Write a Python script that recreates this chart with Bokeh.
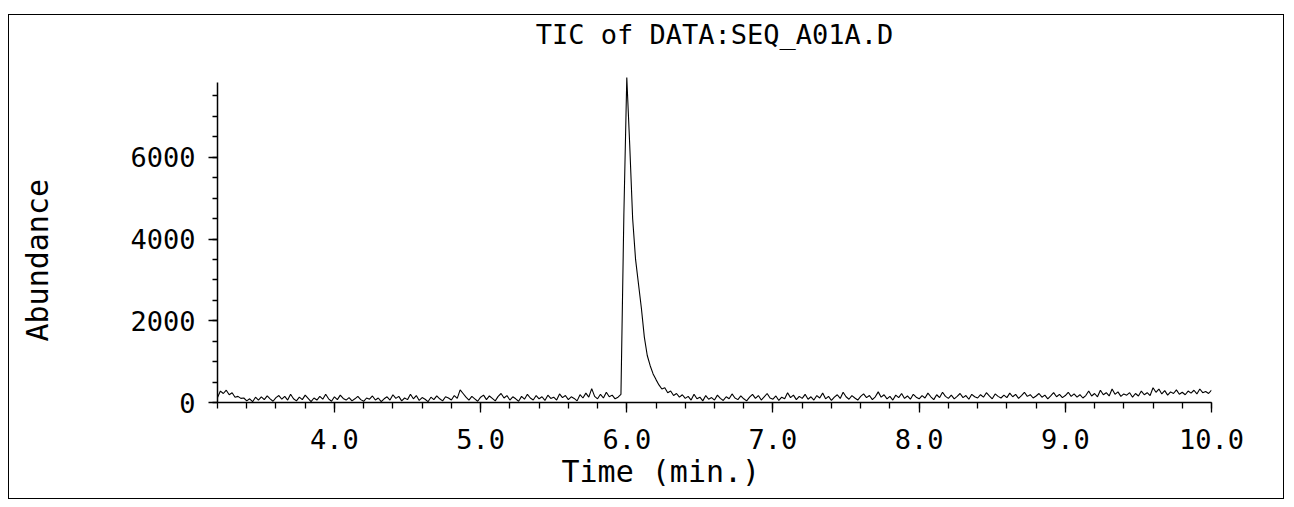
import numpy as np
from bokeh.plotting import figure
from bokeh.models import (Range1d, FixedTicker, PrintfTickFormatter, BasicTickFormatter,
                          Title, LinearAxis)
from bokeh.embed import file_html
from bokeh.resources import INLINE

# ---- data ----
scan_start = 3.20      # min
scan_step = 0.02       # min between scans

# baseline before the peak: 3.20 .. 5.94 min
baseline_before = [
    120, 280, 220, 300, 190, 240, 130, 150, 100, 110,
    40, 90, 20, 130, 60, 140, 70, 160, 90, 30,
    120, 170, 80, 150, 60, 200, 90, 40, 130, 70,
    180, 100, 20, 110, 60, 150, 80, 200, 90, 30,
    140, 70, 180, 100, 60, 120, 40, 90, 150, 70,
    30, 110, 80, 160, 60, 110, 20, 90, 140, 60,
    190, 100, 150, 40, 110, 70, 200, 90, 170, 50,
    120, 80, 20, 130, 70, 160, 90, 40, 140, 110,
    60, 170, 100, 310, 220, 130, 60, 150, 90, 30,
    130, 180, 70, 160, 100, 40, 150, 220, 110, 170,
    60, 140, 90, 30, 150, 80, 200, 110, 60, 170,
    90, 140, 50, 180, 100, 130, 60, 210, 120, 170,
    70, 140, 100, 40, 190, 110, 230, 130, 340, 150,
    90, 200, 110, 250, 140, 180, 90, 130,
]
# peak: 5.96 .. 6.40 min
peak = [
    200, 4600, 7950, 6300, 4500, 3500, 2900, 2300, 1600, 1150,
    900, 700, 560, 430, 330, 360, 240, 280, 170, 220,
    130, 190, 100,
]
# baseline after the peak: 6.42 .. 10.00 min
baseline_after = [
    150, 60, 200, 90, 130, 40, 170, 80, 120, 60,
    180, 100, 50, 140, 90, 210, 110, 70, 160, 90,
    40, 130, 200, 100, 170, 60, 140, 220, 110, 80,
    160, 50, 130, 90, 240, 120, 180, 70, 150, 100,
    200, 80, 140, 60, 170, 110, 230, 90, 150, 50,
    130, 190, 100, 250, 140, 80, 170, 110, 60, 150,
    210, 120, 170, 70, 140, 260, 130, 190, 90, 150,
    60, 180, 120, 220, 100, 160, 80, 200, 130, 90,
    170, 110, 230, 140, 70, 190, 120, 250, 150, 100,
    180, 90, 150, 220, 120, 170, 80, 200, 140, 110,
    190, 130, 240, 160, 90, 210, 150, 110, 180, 120,
    230, 140, 200, 100, 170, 250, 150, 190, 110, 160,
    220, 130, 180, 90, 160, 240, 140, 200, 120, 170,
    250, 150, 210, 130, 190, 110, 170, 280, 160, 220,
    140, 300, 190, 240, 160, 330, 200, 260, 150, 210,
    180, 240, 130, 220, 160, 280, 190, 240, 170, 360,
    250, 330, 210, 290, 180, 260, 220, 310, 200, 250,
    190, 280, 230, 300, 210, 330, 240, 270, 220, 300,
]

x_major_ticks = [4.0, 5.0, 6.0, 7.0, 8.0, 9.0, 10.0]
x_minor_ticks = [round(3.2 + 0.2 * i, 1) for i in range(35)]
y_major_ticks = [0, 2000, 4000, 6000]
y_minor_ticks = [500 * i for i in range(16)]

title_text = "TIC of DATA:SEQ_A01A.D"
x_label = "Time (min.)"
y_label = "Abundance"

abundance = np.array(baseline_before + peak + baseline_after, dtype=float)
time = scan_start + scan_step * np.arange(len(abundance))

FONT = "DejaVu Sans Mono"

p = figure(
    width=1276, height=485,
    x_range=Range1d(3.2, 10.0), y_range=Range1d(0, 8000),
    output_backend="svg", toolbar_location=None,
    min_border_left=208, min_border_right=74, min_border_top=60, min_border_bottom=98,
)
p.styles = {"border": "1.5px solid black", "margin-top": "14px", "margin-left": "8px"}
p.background_fill_color = "white"
p.border_fill_color = "white"
p.outline_line_color = None
p.xgrid.visible = False
p.ygrid.visible = False

p.line(time, abundance, line_color="black", line_width=1.1)

xa = p.xaxis[0]
xa.ticker = FixedTicker(ticks=x_major_ticks, minor_ticks=x_minor_ticks)
xa.formatter = PrintfTickFormatter(format="%.1f")
ya = p.yaxis[0]
ya.ticker = FixedTicker(ticks=y_major_ticks, minor_ticks=y_minor_ticks)
ya.formatter = BasicTickFormatter()
ya.bounds = (0, 7830)

for ax, tout, mout, stand in ((xa, 10, 6, 16), (ya, 9, 5, 13)):
    ax.axis_line_color = "black"
    ax.axis_line_width = 1.5
    ax.major_tick_line_color = "black"
    ax.minor_tick_line_color = "black"
    ax.major_tick_line_width = 1.3
    ax.minor_tick_line_width = 1.3
    ax.major_tick_out = tout
    ax.major_tick_in = 0
    ax.minor_tick_out = mout
    ax.minor_tick_in = 0
    ax.major_label_standoff = stand
    ax.major_label_text_font = FONT
    ax.major_label_text_font_size = "27px"
    ax.major_label_text_color = "black"


def spacer(size, at):
    # a blank axis (one white tick, no label) that only reserves space in a side panel
    return LinearAxis(ticker=FixedTicker(ticks=[at]), major_label_overrides={at: ""},
                      axis_line_color=None, major_tick_line_color="white",
                      minor_tick_line_color=None, major_tick_out=size, major_tick_in=0,
                      minor_tick_out=0, minor_tick_in=0, major_label_standoff=0,
                      major_label_text_font_size="0px")


p.add_layout(spacer(26, 3.2), "above")
p.add_layout(spacer(73, 0), "left")

p.title.text = title_text
p.title.align = "center"
p.title.standoff = 0
p.title.text_font = FONT
p.title.text_font_size = "27px"
p.title.text_font_style = "normal"
p.title.text_color = "black"

p.add_layout(Title(text=x_label, align="left", offset=344, standoff=0,
                   text_font=FONT, text_font_size="30px", text_font_style="normal",
                   text_color="black"), "below")
p.add_layout(Title(text=y_label, align="left", offset=61, standoff=0,
                   text_font=FONT, text_font_size="30px", text_font_style="normal",
                   text_color="black"), "left")

open("out.html", "w").write(file_html(p, INLINE))
